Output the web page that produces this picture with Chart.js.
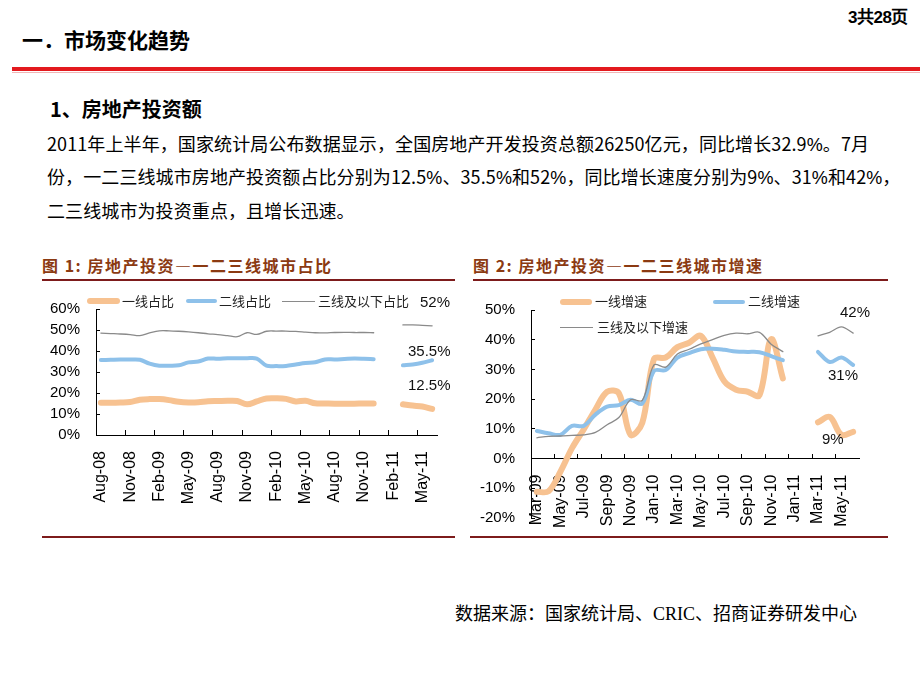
<!DOCTYPE html>
<html lang="zh-CN">
<head>
<meta charset="utf-8">
<script src="https://cdn.jsdelivr.net/npm/chart.js@4.4.0/dist/chart.umd.min.js"></script>
<style>
  body { margin: 0; background: #fff; }
  #page { position: relative; width: 920px; height: 690px; overflow: hidden; font-family: "Noto Sans CJK SC", sans-serif; color: #000; }
  .abs { position: absolute; white-space: nowrap; line-height: 1; }
  .para { font-size: 18px; left: 47px; letter-spacing: 0.1px; }
  .pct { font-family: "Liberation Sans Narrow", "Liberation Sans", sans-serif; }
  .figTitle { font-size: 16px; font-weight: bold; color: #8b3a12; letter-spacing: 1.5px; }
  .rule { position: absolute; height: 2px; background: #7d1b1b; }
  .leg { font-size: 13px; color: #222; }
  .swatch { position: absolute; }
  .note { font-family: "Liberation Sans", Arial, sans-serif; font-size: 15px; color: #111; }
  canvas { position: absolute; }
</style>
</head>
<body>
<div id="page">
  <div class="abs" style="left:848px;top:9px;font-size:17px;font-weight:bold;font-family:'Liberation Sans Narrow','Liberation Sans',sans-serif;letter-spacing:-0.5px;">3共28页</div>
  <div class="abs" style="left:22px;top:29px;font-size:21px;font-weight:bold;">一．市场变化趋势</div>
  <div style="position:absolute;left:12px;top:67px;width:908px;height:4px;background:#e3191e;"></div>
  <div style="position:absolute;left:12px;top:72px;width:908px;height:1px;background:#f2b5b5;"></div>

  <div class="abs" style="left:50px;top:99px;font-size:20px;font-weight:bold;">1、房地产投资额</div>
  <div class="abs para" style="top:134px;">2011年上半年，国家统计局公布数据显示，全国房地产开发投资总额26250亿元，同比增长32.9<span class="pct">%</span>。7月</div>
  <div class="abs para" style="top:167px;">份，一二三线城市房地产投资额占比分别为12.5<span class="pct">%</span>、35.5<span class="pct">%</span>和52<span class="pct">%</span>，同比增长速度分别为9<span class="pct">%</span>、31<span class="pct">%</span>和42<span class="pct">%</span>，</div>
  <div class="abs para" style="top:201px;">二三线城市为投资重点，且增长迅速。</div>

  <div class="abs figTitle" style="left:42px;top:257px;">图 1: 房地产投资—一二三线城市占比</div>
  <div class="rule" style="left:42px;top:279px;width:413px;"></div>
  <div class="abs figTitle" style="left:473px;top:257px;">图 2: 房地产投资—一二三线城市增速</div>
  <div class="rule" style="left:473px;top:279px;width:415px;"></div>

  <canvas id="shareChart" width="410" height="245" style="left:40px;top:290px;"></canvas>
  <canvas id="growthChart" width="410" height="245" style="left:470px;top:290px;"></canvas>

  <!-- chart 1 legend + end labels -->
  <div class="swatch" style="left:87px;top:298px;width:33px;height:6px;background:#f7c291;border-radius:3px;"></div>
  <div class="abs leg" style="left:122px;top:294px;">一线占比</div>
  <div class="swatch" style="left:186px;top:299px;width:31px;height:4px;background:#8ec1ea;border-radius:2px;"></div>
  <div class="abs leg" style="left:219px;top:294px;">二线占比</div>
  <div class="swatch" style="left:282px;top:301px;width:33px;height:1px;background:#8a8a8a;"></div>
  <div class="abs leg" style="left:318px;top:294px;">三线及以下占比</div>
  <div class="abs note" style="left:420px;top:294px;">52%</div>
  <div class="abs note" style="left:408px;top:343px;">35.5%</div>
  <div class="abs note" style="left:408px;top:377px;">12.5%</div>

  <!-- chart 2 legend + end labels -->
  <div class="swatch" style="left:560px;top:299px;width:32px;height:6px;background:#f7c291;border-radius:3px;"></div>
  <div class="abs leg" style="left:595px;top:294px;">一线增速</div>
  <div class="swatch" style="left:713px;top:300px;width:32px;height:4px;background:#8ec1ea;border-radius:2px;"></div>
  <div class="abs leg" style="left:748px;top:294px;">二线增速</div>
  <div class="swatch" style="left:560px;top:327px;width:33px;height:1px;background:#8a8a8a;"></div>
  <div class="abs leg" style="left:597px;top:320px;">三线及以下增速</div>
  <div class="abs note" style="left:840px;top:304px;">42%</div>
  <div class="abs note" style="left:828px;top:367px;">31%</div>
  <div class="abs note" style="left:822px;top:431px;">9%</div>

  <div class="rule" style="left:42px;top:536px;width:413px;"></div>
  <div class="rule" style="left:470px;top:536px;width:418px;"></div>

  <div class="abs" style="left:455px;top:605px;font-size:18px;font-family:'Liberation Serif','Noto Sans CJK SC',serif;">数据来源：国家统计局、CRIC、招商证券研发中心</div>
</div>

<script>
// chart 1: share of investment by city tier (%)
const shareMonths = ['Aug-08','Sep-08','Oct-08','Nov-08','Dec-08','Jan-09','Feb-09','Mar-09','Apr-09','May-09',
  'Jun-09','Jul-09','Aug-09','Sep-09','Oct-09','Nov-09','Dec-09','Jan-10','Feb-10','Mar-10',
  'Apr-10','May-10','Jun-10','Jul-10','Aug-10','Sep-10','Oct-10','Nov-10','Dec-10','Jan-11',
  'Feb-11','Mar-11','Apr-11','May-11','Jun-11'];
const tier1Share = [15.4, 15.4, 15.5, 15.7, 16.8, 17.1, 17.1, 16.6, 15.8, 15.5,
  15.6, 16.1, 16.2, 16.3, 16.2, 14.6, 16.0, 17.4, 17.5, 17.2,
  16.0, 16.3, 15.1, 15.0, 14.9, 14.9, 14.9, 15.0, 15.0, null,
  null, 14.6, 14.0, 13.6, 12.4];
const tier2Share = [35.7, 35.8, 35.9, 35.9, 35.8, 34.0, 33.0, 33.0, 33.2, 34.6,
  35.0, 36.4, 36.3, 36.5, 36.5, 36.6, 36.4, 33.0, 32.8, 32.9,
  33.6, 34.3, 34.6, 36.0, 36.0, 36.2, 36.4, 36.3, 36.1, null,
  null, 33.2, 33.6, 34.4, 35.6];
const tier3Share = [48.5, 48.3, 48.1, 47.8, 47.3, 48.6, 49.6, 49.6, 49.4, 49.1,
  48.7, 48.2, 47.8, 47.3, 46.8, 48.7, 47.9, 49.4, 49.5, 49.5,
  49.3, 49.0, 48.7, 48.6, 48.8, 48.9, 48.8, 48.8, 48.7, null,
  null, 52.4, 52.4, 52.2, 52.0];

// chart 2: year-on-year growth by city tier (%)
const growthMonths = ['Mar-09','Apr-09','May-09','Jun-09','Jul-09','Aug-09','Sep-09','Oct-09','Nov-09','Dec-09',
  'Jan-10','Feb-10','Mar-10','Apr-10','May-10','Jun-10','Jul-10','Aug-10','Sep-10','Oct-10',
  'Nov-10','Dec-10','Jan-11','Feb-11','Mar-11','Apr-11','May-11','Jun-11'];
const tier1Growth = [-11.2, -11.0, -4.5, 3.5, 9.8, 16.5, 22.5, 22.0, 8.0, 12.0,
  33.5, 34.0, 37.5, 39.0, 41.3, 34.0, 26.0, 23.2, 22.5, 21.3,
  40.2, 27.0, null, null, 12.2, 14.0, 8.0, 9.0];
const tier2Growth = [9.3, 8.5, 8.0, 11.0, 11.0, 14.8, 17.5, 18.0, 19.8, 18.5,
  29.5, 29.8, 34.0, 35.5, 36.8, 37.0, 36.6, 36.0, 35.9, 35.8,
  34.5, 33.1, null, null, 35.9, 32.5, 34.0, 31.5];
const tier3Growth = [7.0, 7.5, 7.6, 7.8, 8.0, 8.8, 11.4, 13.8, 19.8, 19.6,
  31.5, 30.8, 35.2, 36.8, 38.6, 40.0, 41.5, 42.2, 42.0, 42.5,
  38.5, 36.0, null, null, 41.3, 42.5, 44.3, 42.2];

const ORANGE = '#f7c291';
const BLUE = '#8ec1ea';
const GRAY = '#8a8a8a';
const axisFont = { family: '"Liberation Sans", Arial, sans-serif', size: 15 };

function lineSet(data, color, width, order) {
  return { data, borderColor: color, borderWidth: width, pointRadius: 0, tension: 0.35,
    spanGaps: false, fill: false, order, borderCapStyle: 'round', borderJoinStyle: 'round' };
}

// drop the label overhang padding so layout.padding alone fixes the plot box
function noPad(axis) {
  axis.paddingTop = 0; axis.paddingBottom = 0; axis.paddingLeft = 0; axis.paddingRight = 0;
}

function xScale(step, extra) {
  return Object.assign({
    type: 'category',
    offset: true,
    afterFit: noPad,
    grid: { offset: true, drawOnChartArea: false, tickLength: -5,
      color: c => (c.index % step === 0 ? '#000' : 'rgba(0,0,0,0)') },
    border: { color: '#000', width: 1 },
    ticks: {
      autoSkip: false, maxRotation: 90, minRotation: 90, color: '#000', padding: 21,
      font: { family: axisFont.family, size: 16 },
      callback: function (v, i) { return i % step === 0 ? this.getLabelForValue(v) : ''; }
    }
  }, extra || {});
}

function yScale(min, max, width) {
  return {
    min, max,
    afterFit: axis => { axis.width = width; noPad(axis); },
    grid: { drawOnChartArea: false, tickLength: -4, color: '#000' },
    border: { color: '#000', width: 1 },
    ticks: { stepSize: 10, color: '#000', padding: 20, font: axisFont, callback: v => v + '%' }
  };
}

function renderShareChart() {
  new Chart(document.getElementById('shareChart'), {
    type: 'line',
    data: {
      labels: shareMonths,
      datasets: [
        lineSet(tier1Share, ORANGE, 6, 3),
        lineSet(tier2Share, BLUE, 4, 2),
        lineSet(tier3Share, GRAY, 1.3, 1)
      ]
    },
    options: {
      responsive: false, animation: false,
      layout: { padding: { top: 19, right: 13, left: 0, bottom: 0 } },
      plugins: { legend: { display: false }, tooltip: { enabled: false } },
      scales: {
        x: xScale(3, { afterFit: axis => { axis.height = 100; noPad(axis); } }),
        y: yScale(0, 60, 56)
      }
    }
  });
}

function renderGrowthChart() {
  new Chart(document.getElementById('growthChart'), {
    type: 'line',
    data: {
      labels: growthMonths,
      datasets: [
        lineSet(tier1Growth, ORANGE, 6, 3),
        lineSet(tier2Growth, BLUE, 4, 2),
        lineSet(tier3Growth, GRAY, 1.3, 1)
      ]
    },
    options: {
      responsive: false, animation: false,
      layout: { padding: { top: 20, right: 21, left: 0, bottom: 17 } },
      plugins: { legend: { display: false }, tooltip: { enabled: false } },
      scales: {
        x: xScale(2, { position: { y: 0 } }),
        y: yScale(-20, 50, 61)
      }
    }
  });
}

renderShareChart();
renderGrowthChart();
</script>
</body>
</html>
